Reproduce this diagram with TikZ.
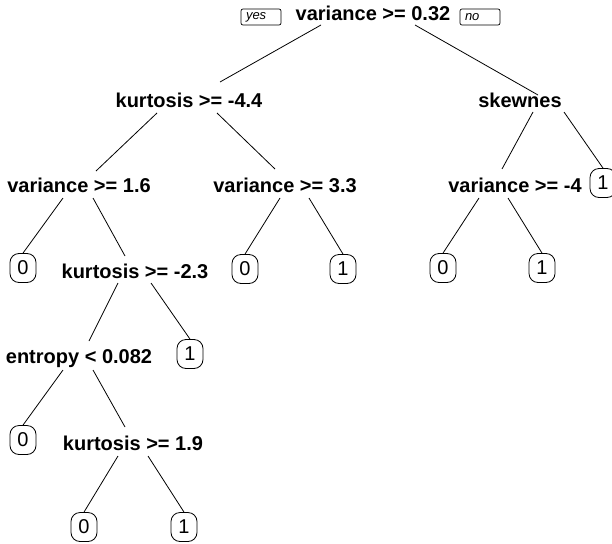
\documentclass[tikz,border=0pt]{standalone}
\usepackage{fontspec}
\setmainfont{Liberation Sans}
\usetikzlibrary{calc}
\begin{document}
\begin{tikzpicture}[x=1pt,y=-1pt,
  split/.style={font=\fontsize{20}{24}\selectfont\bfseries, inner sep=0pt, text height=14pt, text depth=0pt, anchor=center},
  leaf/.style={draw, line width=0.8pt, rounded corners=9pt, minimum width=26pt, minimum height=29pt, inner sep=0pt, font=\fontsize{20}{24}\selectfont},
  yn/.style={draw, line width=0.7pt, rounded corners=2pt, minimum height=16pt, text width=30pt, inner xsep=5pt, inner ysep=0pt, font=\fontsize{13}{15}\selectfont\itshape, align=left},
  br/.style={line width=0.8pt}]
\useasboundingbox (0,0) rectangle (612,543);
% split labels
\node[split] (root) at (373,14) {variance >= 0.32};
\node[yn] (yes) at (261,17) {yes};
\node[yn] (no) at (480,17) {no};
\node[split] (k44) at (189,100) {kurtosis >= -4.4};
\node[split] (skew) at (520,100) {skewnes};
\node[split] (v16) at (79,185) {variance >= 1.6};
\node[split] (v33) at (285,185) {variance >= 3.3};
\node[split] (vm4) at (515,185) {variance >= -4};
\node[split] (k23) at (135,271) {kurtosis >= -2.3};
\node[split] (ent) at (79,356) {entropy < 0.082};
\node[split] (k19) at (133,443) {kurtosis >= 1.9};
% leaves
\node[leaf] (L1a) at (603,183) {1};
\node[leaf] (L0a) at (23,268) {0};
\node[leaf] (L0b) at (245,269) {0};
\node[leaf] (L1b) at (343,269) {1};
\node[leaf] (L0c) at (443,268) {0};
\node[leaf] (L1c) at (542,268) {1};
\node[leaf] (L1d) at (190,354) {1};
\node[leaf] (L0d) at (23,440) {0};
\node[leaf] (L0e) at (84,527) {0};
\node[leaf] (L1e) at (184,527) {1};
% branches
\draw[br] ($(root)+(-52,11)$) -- ($(k44)+(31,-18)$);
\draw[br] ($(root)+(42,11)$) -- ($(skew)+(18,-5)$);
\draw[br] ($(k44)+(-32,13)$) -- ($(v16)+(17,-14)$);
\draw[br] ($(k44)+(28,13)$) -- ($(v33)+(-10,-16)$);
\draw[br] ($(skew)+(13,12)$) -- ($(vm4)+(-13,-16)$);
\draw[br] ($(skew)+(44,12)$) -- (L1a.north);
\draw[br] ($(v16)+(-16,13)$) -- (L0a.north);
\draw[br] ($(v16)+(14,13)$) -- ($(k23)+(-10,-15)$);
\draw[br] ($(v33)+(-5,13)$) -- (L0b.north);
\draw[br] ($(v33)+(24,13)$) -- (L1b.north);
\draw[br] ($(vm4)+(-36,13)$) -- (L0c.north);
\draw[br] ($(vm4)+(-7,13)$) -- (L1c.north);
\draw[br] ($(k23)+(-17,12)$) -- ($(ent)+(10,-15)$);
\draw[br] ($(k23)+(16,12)$) -- (L1d.north);
\draw[br] ($(ent)+(-16,14)$) -- (L0d.north);
\draw[br] ($(ent)+(14,14)$) -- ($(k19)+(-8,-16)$);
\draw[br] ($(k19)+(-15,13)$) -- (L0e.north);
\draw[br] ($(k19)+(15,13)$) -- (L1e.north);
\end{tikzpicture}
\end{document}
